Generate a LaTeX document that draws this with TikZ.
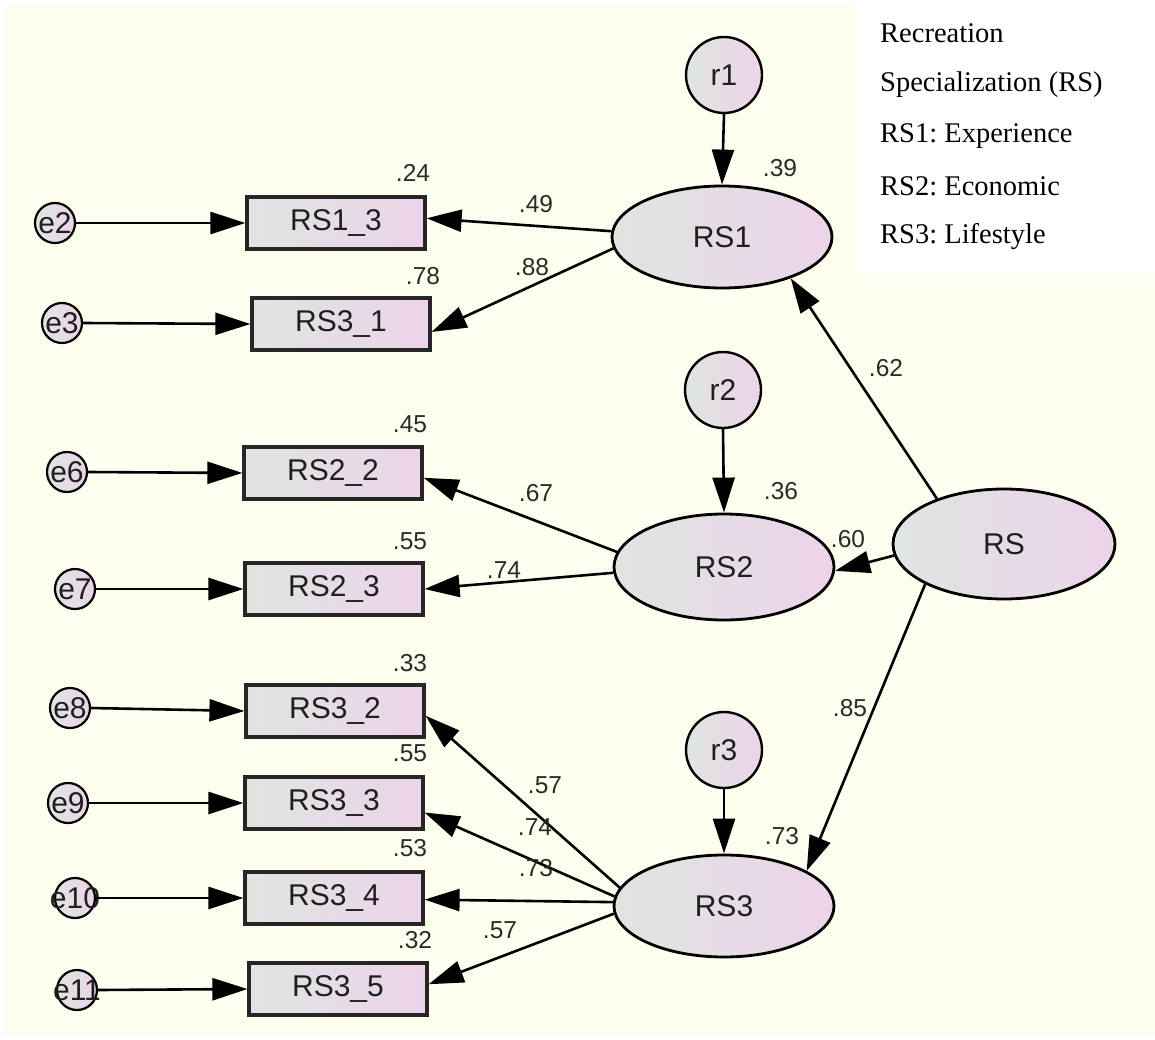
\documentclass[tikz,border=0pt]{standalone}
\usepackage{fontspec}
\setmainfont{Liberation Serif}
\setsansfont{Liberation Sans}
\usetikzlibrary{arrows.meta,shapes.geometric}
\frenchspacing

\definecolor{pagecream}{HTML}{FEFEEF}
\definecolor{shadegrey}{HTML}{DFE5E1}
\definecolor{shadepink}{HTML}{EDD3EA}
\definecolor{coefgrey}{HTML}{2A2A2A}

\tikzset{
  gradfill/.style={left color=shadegrey, right color=shadepink},
  bigtext/.style={font=\sffamily\fontsize{30}{32}\selectfont, text=black!88},
  latent/.style={ellipse, draw=black, line width=2.8pt, gradfill, minimum width=220pt, minimum height=102pt, inner sep=0pt, bigtext},
  resid/.style={circle, draw=black, line width=2.4pt, gradfill, minimum size=76pt, inner sep=0pt, bigtext},
  errc/.style={circle, draw=black, line width=2.2pt, gradfill, minimum size=40pt, inner sep=0pt},
  etext/.style={bigtext, inner sep=0pt},
  obs/.style={rectangle, draw=black!85, line width=3.2pt, gradfill, minimum width=178pt, minimum height=52pt, inner sep=0pt, bigtext},
  coef/.style={font=\sffamily\fontsize{24.5}{26}\selectfont, text=coefgrey, inner sep=0pt},
  legendline/.style={font=\rmfamily\fontsize{28.5}{30}\selectfont, anchor=west, inner sep=0pt},
  link/.style={line width=2.6pt, -{Triangle[length=35pt,width=22pt]}}
}

\begin{document}
\begin{tikzpicture}[x=1pt,y=-1pt]
  \useasboundingbox (0,0) rectangle (1155,1040);
  % page and drawing area
  \fill[white] (0,0) rectangle (1155,1040);
  \fill[pagecream] (5,5) rectangle (1155,1036);
  \fill[white] (857,0) rectangle (1155,274);

  % legend
  \node[legendline] (lg1) at (880,33) {Recreation};
  \node[legendline] (lg2) at (880,85) {Specialization (RS)};
  \node[legendline] (lg3) at (880,136) {RS1: Experience};
  \node[legendline] (lg4) at (880,186) {RS2: Economic};
  \node[legendline] (lg5) at (880,237) {RS3: Lifestyle};

  % latent factors
  \node[latent] (RS1) at (722,237) {RS1};
  \node[latent, minimum height=106pt] (RS2) at (724,567) {RS2};
  \node[latent] (RS3) at (724,906) {RS3};
  \node[latent, minimum width=222pt, minimum height=110pt] (RS) at (1004,544) {RS};

  % disturbances
  \node[resid] (r1) at (724,75) {r1};
  \node[resid] (r2) at (723,390) {r2};
  \node[resid] (r3) at (724,750) {r3};

  % observed indicators
  \node[obs] (RS13) at (336,223) {RS1\_3};
  \node[obs] (RS31) at (341,324) {RS3\_1};
  \node[obs] (RS22) at (333,473) {RS2\_2};
  \node[obs] (RS23) at (334,589) {RS2\_3};
  \node[obs] (RS32) at (335,711) {RS3\_2};
  \node[obs] (RS33) at (334,803) {RS3\_3};
  \node[obs] (RS34) at (334,898) {RS3\_4};
  \node[obs] (RS35) at (338,989) {RS3\_5};

  % measurement errors
  \node[errc, label={[etext]center:e2}] (e2) at (55,223) {};
  \node[errc, label={[etext]center:e3}] (e3) at (62,323) {};
  \node[errc, label={[etext]center:e6}] (e6) at (67,472) {};
  \node[errc, label={[etext]center:e7}] (e7) at (75,589) {};
  \node[errc, label={[etext]center:e8}] (e8) at (70,708) {};
  \node[errc, label={[etext]center:e9}] (e9) at (68,803) {};
  \node[errc, label={[etext]center:e10}] (e10) at (75,898) {};
  \node[errc, label={[etext]center:e11}] (e11) at (77,990) {};

  % error paths
  \draw[link] (e2.east) -- (RS13.west);
  \draw[link] (e3.east) -- (RS31.west);
  \draw[link] (e6.east) -- (RS22.west);
  \draw[link] (e7.east) -- (RS23.west);
  \draw[link] (e8.east) -- (RS32.west);
  \draw[link] (e9.east) -- (RS33.west);
  \draw[link] (e10.east) -- (RS34.west);
  \draw[link] (e11.east) -- (RS35.west);

  % disturbance paths
  \draw[link] (r1.south) -- (RS1.north);
  \draw[link] (r2.south) -- (RS2.north);
  \draw[link] (r3.south) -- (RS3.north);

  % loadings
  \draw[link] (RS1.177) -- (RS13.3);
  \draw[link] (RS1.186) -- (RS31.-5);
  \draw[link] (RS2.172) -- (RS22.-3);
  \draw[link] (RS2.183) -- (RS23.0);
  \draw[link] (RS3.170) -- (RS32.-3);
  \draw[link] (RS3.175) -- (RS33.-6);
  \draw[link] (RS3.178) -- (RS34.-1);
  \draw[link] (RS3.184) -- (RS35.3);

  % second-order paths
  \draw[link] (RS.146) -- (RS1.-31);
  \draw[link] (RS.186) -- (RS2.-2);
  \draw[link] (RS.207) -- (RS3.23);

  % squared multiple correlations
  \node[coef] (c39) at (780,168) {.39};
  \node[coef] (c36) at (781,491) {.36};
  \node[coef] (c73) at (782,836) {.73};
  \node[coef] (c24) at (413,173) {.24};
  \node[coef] (c78) at (423,276) {.78};
  \node[coef] (c45) at (410,424) {.45};
  \node[coef] (c55a) at (410,541) {.55};
  \node[coef] (c33) at (410,663) {.33};
  \node[coef] (c55b) at (410,753) {.55};
  \node[coef] (c53) at (410,848) {.53};
  \node[coef] (c32) at (415,940) {.32};

  % path coefficients
  \node[coef] (p49) at (536,204) {.49};
  \node[coef] (p88) at (532,267) {.88};
  \node[coef] (p67) at (536,493) {.67};
  \node[coef] (p74a) at (504,570) {.74};
  \node[coef] (p57a) at (545,785) {.57};
  \node[coef] (p74b) at (535,827) {.74};
  \node[coef] (p73) at (536,868) {.73};
  \node[coef] (p57b) at (500,930) {.57};
  \node[coef] (p62) at (886,368) {.62};
  \node[coef] (p60) at (848,539) {.60};
  \node[coef] (p85) at (850,708) {.85};
\end{tikzpicture}
\end{document}
